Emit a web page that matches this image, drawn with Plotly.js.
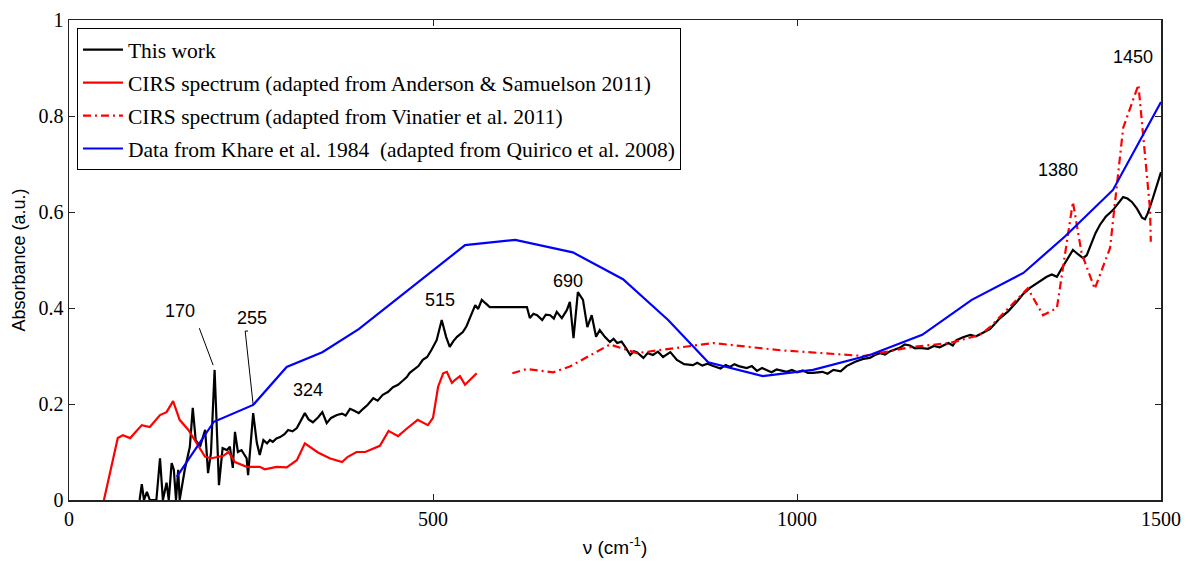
<!DOCTYPE html>
<html>
<head>
<meta charset="utf-8">
<script src="https://cdn.plot.ly/plotly-3.0.1.min.js"></script>
<style>html,body{margin:0;padding:0;background:#fff;}#chart{width:1190px;height:569px;}</style>
</head>
<body>
<div id="chart"></div>
<script>
// ---- Data ----
const seriesNames = [
  "This work",
  "CIRS spectrum (adapted from Anderson &amp; Samuelson 2011)",
  "CIRS spectrum (adapted from Vinatier et al. 2011)",
  "Data from Khare et al. 1984  (adapted from Quirico et al. 2008)"
];

// This work (black)
const workX = [97,100,103,107,111,120,125,129,134,137,141,144,147,150,152,159,166,170,174,180,187,191,195,200,206,211,217,221,225,228,232,237,244,246,253,258,262,267,272,276,280,285,290,296,301,307,313,318,324,329,335,342,348,354,360,368,375,380,386,392,398,404,410,418,424,431,438,445,452,458,464,468,473,480,486,492,498,505,512,518,523,528,533,541,546,551,558,562,567,572,578,629,633,638,643,650,655,661,666,670,677,684,688,693,699,706,712,718,724,729,736,743,748,753,759,764,771,776,780,789,795,802,809,816,826,835,845,857,863,870,877,885,895,902,908,914,920,931,938,945,952,958,965,972,986,993,1000,1008,1015,1022,1035,1042,1050,1060,1068,1080,1091,1100,1107,1114,1121,1128,1135,1141,1148,1155,1162,1169,1180,1188,1196,1208,1214,1219,1228,1238,1246,1256,1265,1279,1290,1302,1310,1320,1332,1343,1350,1357,1362,1368,1379,1386,1393,1398,1405,1410,1416,1424,1434,1441,1448,1454,1460,1467,1474,1478,1482,1488,1494,1500];
const workY = [0,0.033,0,0.017,0,0,0.087,0,0.036,0,0.077,0.063,0,0.063,0,0.063,0.111,0.192,0.125,0.111,0.146,0.056,0.098,0.271,0.031,0.108,0.104,0.111,0.067,0.142,0.1,0.104,0.087,0.052,0.181,0.119,0.094,0.125,0.118,0.125,0.121,0.128,0.131,0.137,0.146,0.143,0.15,0.163,0.181,0.168,0.162,0.172,0.183,0.16,0.171,0.177,0.18,0.176,0.19,0.186,0.181,0.19,0.198,0.212,0.207,0.219,0.225,0.235,0.24,0.248,0.256,0.265,0.271,0.279,0.292,0.298,0.313,0.333,0.375,0.340,0.319,0.331,0.34,0.35,0.362,0.381,0.406,0.398,0.417,0.41,0.402,0.402,0.379,0.388,0.385,0.375,0.386,0.385,0.378,0.392,0.379,0.396,0.413,0.337,0.433,0.417,0.36,0.385,0.34,0.354,0.34,0.329,0.336,0.327,0.33,0.319,0.302,0.31,0.308,0.296,0.306,0.302,0.309,0.298,0.308,0.292,0.283,0.281,0.286,0.28,0.284,0.279,0.274,0.281,0.277,0.283,0.279,0.275,0.279,0.269,0.275,0.271,0.266,0.272,0.267,0.271,0.266,0.27,0.265,0.265,0.267,0.263,0.271,0.268,0.279,0.288,0.294,0.296,0.302,0.306,0.303,0.31,0.314,0.317,0.324,0.322,0.316,0.317,0.315,0.321,0.318,0.327,0.322,0.333,0.339,0.344,0.341,0.348,0.356,0.379,0.393,0.413,0.428,0.442,0.455,0.465,0.47,0.465,0.478,0.494,0.521,0.512,0.504,0.51,0.535,0.556,0.573,0.59,0.604,0.618,0.631,0.628,0.621,0.607,0.588,0.585,0.598,0.625,0.652,0.683];

// CIRS, Anderson & Samuelson 2011 (red solid)
const andX = [48,67,74,84,100,111,125,134,143,152,164,175,187,196,212,219,228,244,262,269,285,299,313,324,333,342,358,375,383,395,407,418,427,439,452,465,479,493,500,507,514,519,526,530,537,544,560];
const andY = [0,0.129,0.135,0.129,0.156,0.152,0.177,0.183,0.206,0.167,0.146,0.119,0.090,0.087,0.092,0.100,0.079,0.069,0.069,0.064,0.069,0.068,0.083,0.118,0.108,0.099,0.087,0.079,0.090,0.10,0.10,0.108,0.113,0.144,0.133,0.15,0.167,0.156,0.171,0.236,0.264,0.267,0.244,0.25,0.258,0.24,0.264];

// CIRS, Vinatier et al. 2011 (red dash-dot)
const vinX = [609,629,665,688,743,780,885,977,1091,1159,1210,1251,1265,1317,1338,1357,1379,1391,1409,1430,1448,1469,1485,1486];
const vinY = [0.264,0.273,0.266,0.278,0.324,0.306,0.327,0.312,0.300,0.319,0.327,0.344,0.36,0.441,0.385,0.40,0.621,0.514,0.440,0.525,0.775,0.865,0.605,0.538];

// Khare et al. 1984 (blue)
const khareX = [148,199,253,299,348,398,544,613,692,761,823,878,953,1022,1100,1172,1240,1311,1368,1434,1500];
const khareY = [0.048,0.163,0.198,0.277,0.308,0.356,0.531,0.542,0.516,0.460,0.375,0.287,0.258,0.271,0.302,0.344,0.417,0.473,0.549,0.646,0.829];

// Peak labels
const peakLabels = ["170","255","324","515","690","1380","1450"];
const peakLabelX = [152,251,328,510,685,1359,1462];
const peakLabelY = [0.394,0.379,0.229,0.417,0.456,0.688,0.923];

const xTicks = [0,500,1000,1500];
const yTicks = [0,0.2,0.4,0.6,0.8,1];

// ---- Traces ----
const traces = [
  {x: workX, y: workY, name: seriesNames[0], mode: "lines", legendgroup: "a",
   line: {color: "#000000", width: 2.2}},
  {x: andX, y: andY, name: seriesNames[1], mode: "lines", legendgroup: "b",
   line: {color: "#ff0000", width: 2.2}},
  {x: vinX, y: vinY, name: seriesNames[2], mode: "lines", legendgroup: "c",
   line: {color: "#ff0000", width: 2.2, dash: "8px,4px,2px,4px"}},
  {x: khareX, y: khareY, name: seriesNames[3], mode: "lines", legendgroup: "d",
   line: {color: "#0000ff", width: 2.2}}
];

const annotations = peakLabels.map((t, i) => ({
  x: peakLabelX[i], y: peakLabelY[i], xref: "x", yref: "y", text: t, showarrow: false,
  font: {family: "Liberation Sans, Arial, sans-serif", size: 18, color: "#000"}
}));

const layout = {
  width: 1190, height: 569,
  margin: {l: 69, r: 29, t: 20, b: 69},
  paper_bgcolor: "#fff", plot_bgcolor: "#fff",
  showlegend: true,
  legend: {
    x: 0.0073, y: 0.983, xanchor: "left", yanchor: "top",
    bordercolor: "#000", borderwidth: 1, bgcolor: "#fff",
    font: {family: "Liberation Serif, Times New Roman, serif", size: 21.5, color: "#000"},
    traceorder: "grouped", tracegroupgap: 2, itemwidth: 40
  },
  xaxis: {
    range: [0, 1500], tickvals: xTicks, ticktext: xTicks.map(String),
    showgrid: false, zeroline: false, showline: true, linecolor: "#222", linewidth: 1.5,
    mirror: "ticks", ticks: "inside", ticklen: 6, tickcolor: "#222",
    tickfont: {family: "Liberation Serif, Times New Roman, serif", size: 20, color: "#000"},
    title: {text: "ν (cm<sup>-1</sup>)", standoff: 12,
            font: {family: "Liberation Sans, Arial, sans-serif", size: 19, color: "#000"}}
  },
  yaxis: {
    range: [0, 1], tickvals: yTicks, ticktext: ["0","0.2","0.4","0.6","0.8","1"],
    showgrid: false, zeroline: false, showline: true, linecolor: "#222", linewidth: 1.5,
    mirror: "ticks", ticks: "inside", ticklen: 6, tickcolor: "#222",
    tickfont: {family: "Liberation Serif, Times New Roman, serif", size: 20, color: "#000"},
    title: {text: "Absorbance (a.u.)", standoff: 8,
            font: {family: "Liberation Sans, Arial, sans-serif", size: 18, color: "#000"}}
  },
  annotations: annotations,
  shapes: [
    {type: "line", xref: "x", yref: "y", x0: 179, y0: 0.358, x1: 198, y1: 0.281,
     line: {color: "#000", width: 1}},
    {type: "line", xref: "x", yref: "y", x0: 242, y0: 0.352, x1: 253, y1: 0.198,
     line: {color: "#000", width: 1}},
    {type: "line", xref: "x", yref: "y", x0: 242, y0: 0.352, x1: 246, y1: 0.352,
     line: {color: "#000", width: 1}}
  ]
};

Plotly.newPlot("chart", traces, layout, {displayModeBar: false, staticPlot: true});
</script>
</body>
</html>
